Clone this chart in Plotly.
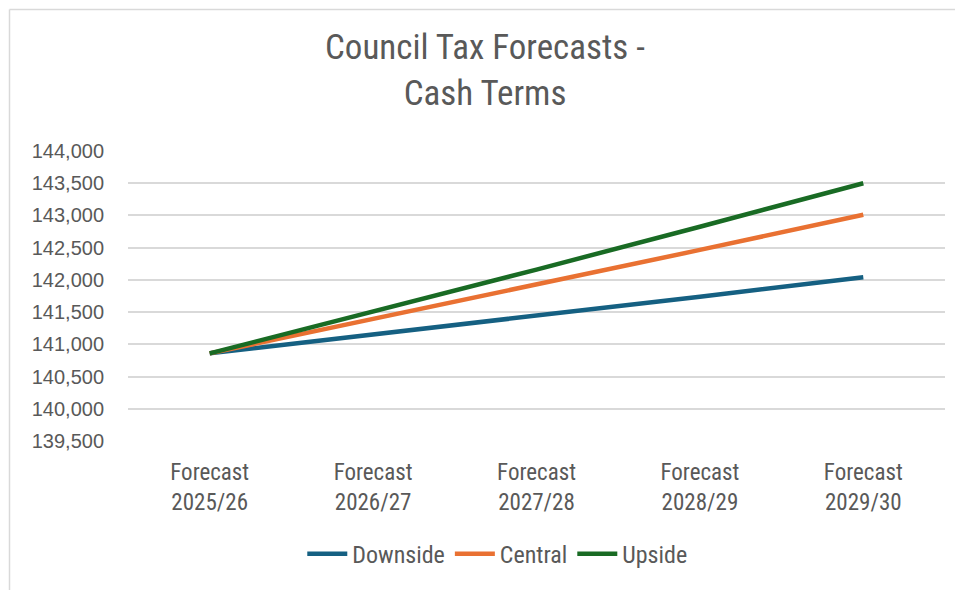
import plotly.graph_objects as go

# categories and series
years = ["Forecast<br>2025/26", "Forecast<br>2026/27", "Forecast<br>2027/28",
         "Forecast<br>2028/29", "Forecast<br>2029/30"]
downside = [140860, 141150, 141445, 141740, 142040]
central = [140860, 141390, 141925, 142465, 143010]
upside = [140860, 141505, 142160, 142825, 143500]

series = [("Downside", downside, "#156082"),
          ("Central", central, "#E97132"),
          ("Upside", upside, "#196B24")]

W, H = 963, 590
OFF = 8  # page body margin shifts the figure by 8px
L, R, T, B = 128 - OFF, 18 + OFF, 151 - OFF, 149 + OFF
narrow = "Liberation Sans Narrow, Roboto Condensed, Roboto, sans-serif"

fig = go.Figure()
for name, vals, col in series:
    fig.add_trace(go.Scatter(x=years, y=vals, name=name, mode="lines",
                             line=dict(color=col, width=4.5)))

pw = W - L - R
ph = H - T - B
# light frame on left and top, like the Excel chart border
fx = (1.5 - L) / pw
fy_top = (H - 1.5 - B) / ph
fy_bot = -B / ph
fig.add_shape(type="line", xref="paper", yref="paper",
              x0=fx, x1=fx, y0=fy_bot, y1=fy_top,
              line=dict(color="#D9D9D9", width=1.5))
fig.add_shape(type="line", xref="paper", yref="paper",
              x0=fx, x1=(W + 5 - L) / pw, y0=fy_top, y1=fy_top,
              line=dict(color="#D9D9D9", width=1.5))

fig.update_layout(
    width=W, height=H,
    margin=dict(l=L, r=R, t=T, b=B, autoexpand=False),
    paper_bgcolor="white", plot_bgcolor="white",
    title=dict(text="Council Tax Forecasts -<br>Cash Terms",
               xref="container", yref="container",
               x=(485 - OFF) / W, xanchor="center", y=1 - 51 / H, yanchor="top",
               automargin=False,
               font=dict(family=narrow, size=35, color="#595959")),
    legend=dict(orientation="h", x=0.452, xanchor="center", y=-0.39, yanchor="middle",
                font=dict(family=narrow, size=24, color="#595959"),
                itemwidth=40, tracegroupgap=0),
    showlegend=True,
)
fig.update_xaxes(range=[-0.5, 4.5], automargin=False,
                 showgrid=False, showline=False, zeroline=False, ticks="",
                 tickfont=dict(family=narrow, size=23, color="#595959"),
                 ticklabelstandoff=15)
fig.update_yaxes(range=[139500, 144000], dtick=500, tickformat=",", automargin=False,
                 showgrid=True, gridcolor="#D9D9D9", gridwidth=1.5,
                 zeroline=False, showline=False, ticks="",
                 tickfont=dict(family="Liberation Sans, Arial, sans-serif", size=20, color="#595959"),
                 ticklabelstandoff=23)

fig.write_html("out.html")
